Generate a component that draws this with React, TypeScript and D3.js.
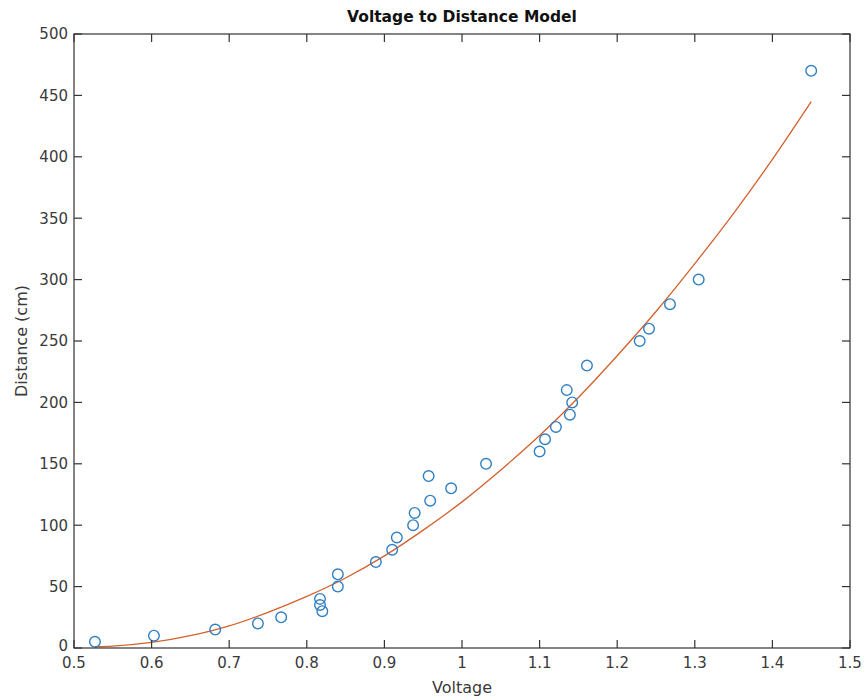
import React from "react";
import * as d3 from "d3";

// Measured samples: voltage (V) and distance (cm)
const voltage = [
  0.527, 0.603, 0.682, 0.737, 0.767, 0.817, 0.817, 0.82, 0.84, 0.84, 0.889,
  0.91, 0.916, 0.937, 0.939, 0.959, 0.957, 0.986, 1.031, 1.1, 1.107, 1.121,
  1.139, 1.142, 1.135, 1.161, 1.229, 1.241, 1.268, 1.305, 1.45,
];
const distance = [
  5, 10, 15, 20, 25, 40, 35, 30, 50, 60, 70, 80, 90, 100, 110, 120, 140, 130,
  150, 160, 170, 180, 190, 200, 210, 230, 250, 260, 280, 300, 470,
];

// Fitted model curve, sampled along the voltage range
const modelVoltage = [
  0.527, 0.55, 0.6, 0.65, 0.7, 0.75, 0.8, 0.85, 0.9, 0.95, 1.0, 1.05, 1.1,
  1.15, 1.2, 1.25, 1.3, 1.35, 1.4, 1.45,
];
const modelDistance = [
  1, 1.5, 4.5, 10, 18, 29, 42, 57, 75, 96, 119, 145, 173, 204, 238, 274, 313,
  354, 398, 445,
];

const xTicks = [0.5, 0.6, 0.7, 0.8, 0.9, 1, 1.1, 1.2, 1.3, 1.4, 1.5];
const yTicks = [0, 50, 100, 150, 200, 250, 300, 350, 400, 450, 500];

const W = 864;
const H = 698;
const left = 74;
const right = 850;
const top = 34;
const bottom = 648;
const tickLen = 8;
const axisColor = "#333333";
const textColor = "#3a3a3a";
const font = "'DejaVu Sans', sans-serif";

export default function App() {
  const x = d3.scaleLinear().domain([0.5, 1.5]).range([left, right]);
  const y = d3.scaleLinear().domain([0, 500]).range([bottom, top]);

  const model = modelVoltage.map((v, i) => [v, modelDistance[i]] as [number, number]);
  const linePath = d3
    .line<[number, number]>()
    .x((d) => x(d[0]))
    .y((d) => y(d[1]))
    .curve(d3.curveMonotoneX)(model);

  return (
    <svg
      width={W}
      height={H}
      style={{ position: "absolute", left: 0, top: 0, background: "#fff" }}
    >
      <rect x={0} y={0} width={W} height={H} fill="#fff" />

      {/* model curve */}
      <path d={linePath ?? ""} fill="none" stroke="#d4602c" strokeWidth={1.3} />

      {/* measurements */}
      {voltage.map((v, i) => (
        <circle
          key={i}
          cx={x(v)}
          cy={y(distance[i])}
          r={5.3}
          fill="none"
          stroke="#2f7fc4"
          strokeWidth={1.4}
        />
      ))}

      {/* axes box */}
      <rect
        x={left}
        y={top}
        width={right - left}
        height={bottom - top}
        fill="none"
        stroke={axisColor}
        strokeWidth={1.2}
      />

      {xTicks.map((t) => (
        <g key={"x" + t}>
          <line x1={x(t)} x2={x(t)} y1={bottom} y2={bottom - tickLen} stroke={axisColor} strokeWidth={1.2} />
          <line x1={x(t)} x2={x(t)} y1={top} y2={top + tickLen} stroke={axisColor} strokeWidth={1.2} />
          <text
            x={x(t)}
            y={bottom + 20}
            textAnchor="middle"
            fontFamily={font}
            fontSize={15}
            fill={textColor}
          >
            {String(t)}
          </text>
        </g>
      ))}

      {yTicks.map((t) => (
        <g key={"y" + t}>
          <line x1={left} x2={left + tickLen} y1={y(t)} y2={y(t)} stroke={axisColor} strokeWidth={1.2} />
          <line x1={right} x2={right - tickLen} y1={y(t)} y2={y(t)} stroke={axisColor} strokeWidth={1.2} />
          <text
            x={left - 6}
            y={y(t) - (t === 0 ? 2 : 0)}
            dy="0.36em"
            textAnchor="end"
            fontFamily={font}
            fontSize={15}
            fill={textColor}
          >
            {t}
          </text>
        </g>
      ))}

      <text
        x={(left + right) / 2}
        y={22}
        textAnchor="middle"
        fontFamily={font}
        fontSize={15.5}
        fontWeight="bold"
        fill="#111"
      >
        Voltage to Distance Model
      </text>

      <text
        x={(left + right) / 2}
        y={693}
        textAnchor="middle"
        fontFamily={font}
        fontSize={16}
        fill={textColor}
      >
        Voltage
      </text>

      <text
        transform={`translate(27, ${(top + bottom) / 2}) rotate(-90)`}
        textAnchor="middle"
        fontFamily={font}
        fontSize={16}
        fill={textColor}
      >
        Distance (cm)
      </text>
    </svg>
  );
}
